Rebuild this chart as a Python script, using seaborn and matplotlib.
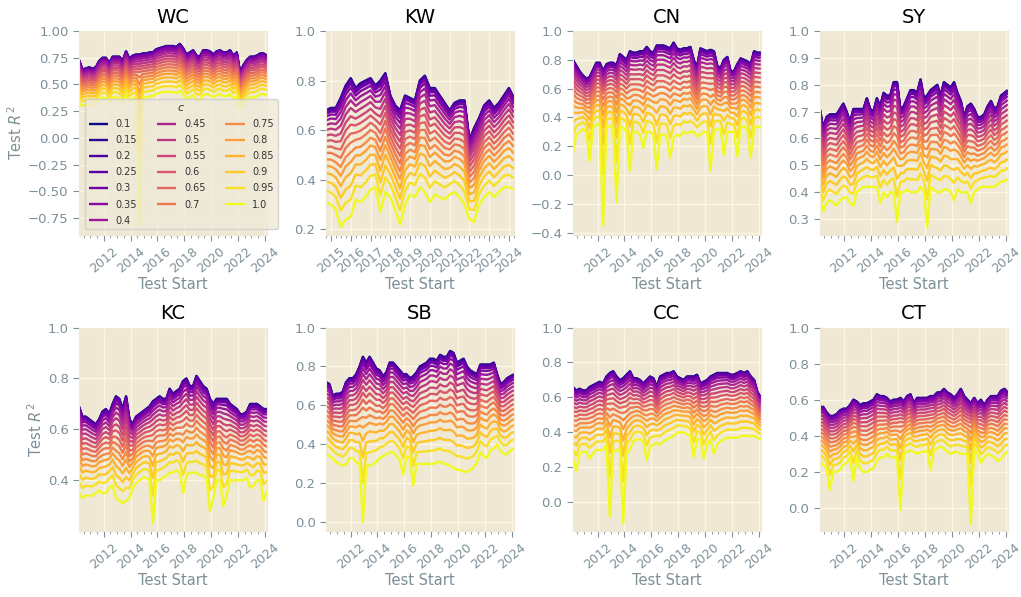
import numpy as np
import pandas as pd
import seaborn as sns
import matplotlib
matplotlib.use('Agg')
import matplotlib.dates as mdates
from matplotlib import pyplot as plt
from matplotlib.ticker import MultipleLocator

# shrinkage values c, one line each
C_VALUES = ['0.1', '0.15', '0.2', '0.25', '0.3', '0.35', '0.4', '0.45', '0.5', '0.55',
            '0.6', '0.65', '0.7', '0.75', '0.8', '0.85', '0.9', '0.95', '1.0']
# where each c line sits between the c=0.1 line (0) and the c=1.0 line (1)
C_FRAC = [0.0, 0.004, 0.01, 0.02, 0.038, 0.068, 0.11, 0.16, 0.215, 0.275,
          0.335, 0.4, 0.465, 0.535, 0.605, 0.685, 0.775, 0.875, 1.0]
# how much of the short drops of the c=1.0 line shows in each line
C_DIP = [0, 0, 0, 0, 0, 0, 0, 0, 0, 0,
         0, 0, 0.02, 0.05, 0.10, 0.18, 0.30, 0.55, 1.0]

# quarterly test start dates
DATES = pd.date_range('2010-03-01', '2024-03-01', freq='QS-MAR')
KW_DATES = pd.date_range('2014-10-01', '2024-04-01', freq='QS-JAN')

PANELS = ['WC', 'KW', 'CN', 'SY', 'KC', 'SB', 'CC', 'CT']
Y_STEP = {'WC': 0.25, 'SY': 0.1}

# c = 0.1 line (top) and c = 1.0 line (bottom, without the short drops)
WC_TOP = [0.73, 0.64, 0.65, 0.66, 0.65, 0.66, 0.72, 0.75, 0.75, 0.70, 0.76, 0.76,
          0.76, 0.72, 0.81, 0.74, 0.77, 0.78, 0.78, 0.79, 0.79, 0.80, 0.80, 0.83,
          0.84, 0.85, 0.86, 0.86, 0.86, 0.85, 0.88, 0.84, 0.78, 0.80, 0.82, 0.77,
          0.76, 0.82, 0.82, 0.81, 0.78, 0.81, 0.82, 0.80, 0.80, 0.82, 0.77, 0.80,
          0.61, 0.68, 0.73, 0.76, 0.76, 0.77, 0.79, 0.79, 0.77]
WC_LOW = [0.33, 0.30, 0.31, 0.32, 0.31, 0.32, 0.36, 0.38, 0.37, 0.33, 0.38, 0.38,
          0.37, 0.33, 0.40, 0.34, 0.37, 0.38, 0.37, 0.38, 0.38, 0.39, 0.39, 0.41,
          0.42, 0.43, 0.43, 0.43, 0.43, 0.42, 0.44, 0.41, 0.36, 0.38, 0.40, 0.36,
          0.35, 0.40, 0.41, 0.40, 0.38, 0.40, 0.41, 0.39, 0.39, 0.41, 0.37, 0.39,
          0.27, 0.32, 0.36, 0.38, 0.38, 0.39, 0.41, 0.41, 0.40]
WC_DIP_AT = ['2014-09']
WC_DIP_VAL = [-0.82]

KW_TOP = [0.68, 0.69, 0.69, 0.73, 0.78, 0.81, 0.77, 0.79, 0.80, 0.81, 0.78, 0.80,
          0.83, 0.74, 0.70, 0.68, 0.74, 0.73, 0.72, 0.80, 0.82, 0.77, 0.77, 0.74,
          0.71, 0.68, 0.71, 0.72, 0.72, 0.56, 0.61, 0.65, 0.70, 0.72, 0.69, 0.71,
          0.74, 0.77, 0.73]
KW_LOW = [0.31, 0.30, 0.28, 0.21, 0.24, 0.25, 0.32, 0.31, 0.33, 0.36, 0.37, 0.27,
          0.35, 0.33, 0.28, 0.22, 0.30, 0.34, 0.33, 0.37, 0.35, 0.31, 0.34, 0.33,
          0.32, 0.34, 0.35, 0.33, 0.30, 0.24, 0.23, 0.30, 0.33, 0.35, 0.33, 0.35,
          0.37, 0.37, 0.36]
KW_DIP_AT = []
KW_DIP_VAL = []

CN_TOP = [0.80, 0.76, 0.72, 0.69, 0.67, 0.68, 0.73, 0.78, 0.78, 0.72, 0.77, 0.78,
          0.78, 0.76, 0.84, 0.82, 0.80, 0.86, 0.85, 0.85, 0.86, 0.86, 0.89, 0.86,
          0.85, 0.90, 0.90, 0.90, 0.89, 0.88, 0.92, 0.88, 0.87, 0.88, 0.88, 0.89,
          0.80, 0.75, 0.88, 0.87, 0.86, 0.87, 0.86, 0.76, 0.74, 0.80, 0.82, 0.72,
          0.72, 0.77, 0.81, 0.80, 0.79, 0.77, 0.86, 0.85, 0.85]
CN_LOW = [0.30, 0.28, 0.30, 0.32, 0.30, 0.30, 0.33, 0.35, 0.35, 0.33, 0.33, 0.34,
          0.33, 0.30, 0.33, 0.33, 0.30, 0.28, 0.30, 0.30, 0.28, 0.25, 0.30, 0.30,
          0.28, 0.28, 0.28, 0.28, 0.27, 0.25, 0.26, 0.28, 0.27, 0.30, 0.29, 0.30,
          0.30, 0.27, 0.28, 0.30, 0.30, 0.28, 0.30, 0.32, 0.32, 0.33, 0.30, 0.30,
          0.30, 0.28, 0.33, 0.34, 0.32, 0.30, 0.33, 0.34, 0.33]
CN_DIP_AT = ['2010-03', '2011-06', '2012-06', '2013-06', '2014-06', '2015-06',
             '2016-06', '2017-06', '2020-06', '2021-06', '2022-06', '2023-06']
CN_DIP_VAL = [0.15, 0.10, -0.35, -0.19, 0.03, 0.19, 0.04, 0.12, 0.03, 0.14, 0.13, 0.12]

SY_TOP = [0.71, 0.64, 0.68, 0.69, 0.69, 0.69, 0.71, 0.73, 0.70, 0.66, 0.71, 0.71,
          0.71, 0.71, 0.75, 0.71, 0.70, 0.75, 0.72, 0.77, 0.76, 0.76, 0.81, 0.81,
          0.71, 0.72, 0.75, 0.78, 0.78, 0.77, 0.82, 0.75, 0.76, 0.78, 0.79, 0.80,
          0.76, 0.81, 0.80, 0.79, 0.81, 0.77, 0.74, 0.68, 0.72, 0.73, 0.71, 0.68,
          0.68, 0.69, 0.72, 0.74, 0.71, 0.72, 0.76, 0.77, 0.78]
SY_LOW = [0.38, 0.33, 0.36, 0.37, 0.36, 0.35, 0.37, 0.38, 0.38, 0.36, 0.35, 0.40,
          0.41, 0.42, 0.42, 0.42, 0.42, 0.42, 0.40, 0.40, 0.38, 0.40, 0.40, 0.38,
          0.40, 0.40, 0.41, 0.40, 0.40, 0.40, 0.42, 0.40, 0.40, 0.42, 0.41, 0.40,
          0.40, 0.41, 0.41, 0.40, 0.40, 0.41, 0.40, 0.40, 0.40, 0.38, 0.40, 0.41,
          0.42, 0.42, 0.42, 0.42, 0.42, 0.43, 0.44, 0.44, 0.45]
SY_DIP_AT = ['2014-09', '2015-12', '2018-03', '2020-03', '2021-06']
SY_DIP_VAL = [0.36, 0.29, 0.27, 0.37, 0.36]

KC_TOP = [0.69, 0.65, 0.65, 0.64, 0.63, 0.62, 0.64, 0.67, 0.68, 0.66, 0.70, 0.73,
          0.72, 0.68, 0.73, 0.64, 0.62, 0.65, 0.66, 0.67, 0.68, 0.69, 0.71, 0.72,
          0.73, 0.72, 0.72, 0.76, 0.74, 0.75, 0.76, 0.79, 0.80, 0.77, 0.77, 0.81,
          0.79, 0.77, 0.76, 0.72, 0.70, 0.72, 0.72, 0.72, 0.72, 0.70, 0.69, 0.68,
          0.66, 0.66, 0.67, 0.70, 0.70, 0.70, 0.69, 0.68, 0.68]
KC_LOW = [0.35, 0.33, 0.34, 0.34, 0.34, 0.35, 0.36, 0.35, 0.35, 0.37, 0.38, 0.33,
          0.32, 0.31, 0.32, 0.33, 0.37, 0.39, 0.40, 0.41, 0.41, 0.40, 0.38, 0.40,
          0.40, 0.41, 0.42, 0.43, 0.43, 0.44, 0.43, 0.40, 0.42, 0.43, 0.43, 0.43,
          0.42, 0.42, 0.41, 0.36, 0.33, 0.40, 0.40, 0.36, 0.34, 0.40, 0.40, 0.40,
          0.40, 0.40, 0.41, 0.40, 0.38, 0.40, 0.40, 0.38, 0.36]
KC_DIP_AT = ['2015-09', '2017-12', '2019-12', '2020-12', '2022-12', '2023-12']
KC_DIP_VAL = [0.23, 0.35, 0.28, 0.30, 0.37, 0.32]

SB_TOP = [0.72, 0.71, 0.65, 0.66, 0.66, 0.67, 0.72, 0.74, 0.74, 0.76, 0.80, 0.85,
          0.82, 0.85, 0.82, 0.79, 0.78, 0.75, 0.77, 0.82, 0.82, 0.80, 0.78, 0.76,
          0.76, 0.74, 0.75, 0.77, 0.80, 0.81, 0.82, 0.84, 0.84, 0.83, 0.86, 0.85,
          0.85, 0.88, 0.87, 0.82, 0.83, 0.84, 0.80, 0.78, 0.77, 0.76, 0.81, 0.81,
          0.81, 0.81, 0.82, 0.76, 0.71, 0.72, 0.74, 0.75, 0.76]
SB_LOW = [0.36, 0.34, 0.33, 0.31, 0.30, 0.29, 0.30, 0.33, 0.33, 0.31, 0.30, 0.30,
          0.29, 0.29, 0.30, 0.31, 0.33, 0.34, 0.35, 0.36, 0.36, 0.34, 0.32, 0.30,
          0.34, 0.33, 0.28, 0.30, 0.30, 0.30, 0.30, 0.30, 0.30, 0.31, 0.31, 0.30,
          0.30, 0.29, 0.28, 0.27, 0.27, 0.26, 0.26, 0.27, 0.28, 0.31, 0.36, 0.34,
          0.33, 0.37, 0.38, 0.40, 0.37, 0.35, 0.35, 0.37, 0.38]
SB_DIP_AT = ['2012-12', '2015-12', '2016-09']
SB_DIP_VAL = [0.0, 0.245, 0.19]

CC_TOP = [0.66, 0.64, 0.65, 0.64, 0.64, 0.66, 0.67, 0.68, 0.69, 0.68, 0.72, 0.74,
          0.75, 0.72, 0.70, 0.71, 0.73, 0.75, 0.71, 0.71, 0.70, 0.68, 0.70, 0.72,
          0.71, 0.66, 0.72, 0.73, 0.74, 0.74, 0.75, 0.72, 0.71, 0.70, 0.72, 0.72,
          0.72, 0.73, 0.68, 0.69, 0.70, 0.72, 0.73, 0.74, 0.74, 0.74, 0.74, 0.73,
          0.73, 0.74, 0.75, 0.74, 0.75, 0.72, 0.70, 0.63, 0.60]
CC_LOW = [0.25, 0.27, 0.28, 0.29, 0.29, 0.28, 0.28, 0.30, 0.30, 0.30, 0.33, 0.30,
          0.29, 0.30, 0.30, 0.30, 0.28, 0.30, 0.35, 0.36, 0.36, 0.35, 0.33, 0.32,
          0.33, 0.34, 0.33, 0.35, 0.36, 0.37, 0.38, 0.40, 0.40, 0.40, 0.39, 0.38,
          0.34, 0.36, 0.36, 0.33, 0.33, 0.36, 0.34, 0.33, 0.35, 0.36, 0.37, 0.37,
          0.37, 0.37, 0.38, 0.38, 0.38, 0.38, 0.38, 0.37, 0.36]
CC_DIP_AT = ['2010-06', '2011-06', '2012-12', '2013-12', '2015-09', '2019-03',
             '2019-12', '2020-09']
CC_DIP_VAL = [0.18, 0.25, -0.08, -0.12, 0.24, 0.26, 0.25, 0.28]

CT_TOP = [0.56, 0.56, 0.53, 0.51, 0.51, 0.52, 0.54, 0.55, 0.55, 0.57, 0.60, 0.59,
          0.57, 0.58, 0.58, 0.59, 0.60, 0.63, 0.62, 0.62, 0.61, 0.59, 0.60, 0.60,
          0.61, 0.59, 0.62, 0.63, 0.58, 0.61, 0.61, 0.61, 0.61, 0.62, 0.62, 0.64,
          0.64, 0.66, 0.64, 0.63, 0.61, 0.63, 0.66, 0.62, 0.60, 0.58, 0.61, 0.58,
          0.60, 0.57, 0.60, 0.62, 0.62, 0.62, 0.65, 0.66, 0.64]
CT_LOW = [0.26, 0.24, 0.22, 0.20, 0.20, 0.20, 0.21, 0.24, 0.25, 0.28, 0.28, 0.28,
          0.22, 0.20, 0.20, 0.21, 0.22, 0.26, 0.28, 0.28, 0.30, 0.28, 0.28, 0.28,
          0.28, 0.30, 0.31, 0.32, 0.31, 0.30, 0.31, 0.31, 0.32, 0.31, 0.32, 0.33,
          0.34, 0.33, 0.31, 0.30, 0.31, 0.31, 0.30, 0.30, 0.30, 0.31, 0.33, 0.30,
          0.26, 0.28, 0.30, 0.29, 0.28, 0.26, 0.27, 0.30, 0.31]
CT_DIP_AT = ['2010-12', '2012-09', '2016-03', '2018-06', '2021-06', '2022-03']
CT_DIP_VAL = [0.10, 0.15, -0.01, 0.21, -0.09, 0.25]

SERIES = {
    'WC': (DATES, WC_TOP, WC_LOW, WC_DIP_AT, WC_DIP_VAL),
    'KW': (KW_DATES, KW_TOP, KW_LOW, KW_DIP_AT, KW_DIP_VAL),
    'CN': (DATES, CN_TOP, CN_LOW, CN_DIP_AT, CN_DIP_VAL),
    'SY': (DATES, SY_TOP, SY_LOW, SY_DIP_AT, SY_DIP_VAL),
    'KC': (DATES, KC_TOP, KC_LOW, KC_DIP_AT, KC_DIP_VAL),
    'SB': (DATES, SB_TOP, SB_LOW, SB_DIP_AT, SB_DIP_VAL),
    'CC': (DATES, CC_TOP, CC_LOW, CC_DIP_AT, CC_DIP_VAL),
    'CT': (DATES, CT_TOP, CT_LOW, CT_DIP_AT, CT_DIP_VAL),
}

TICK_GRAY = '#7d8f97'


def panel_frame(dates, top, low, dip_at, dip_val):
    top = np.asarray(top)
    low = np.asarray(low)
    drop = np.zeros(len(dates))
    for d, v in zip(dip_at, dip_val):
        i = dates.get_loc(pd.Timestamp(d + '-01'))
        drop[i] = v - low[i]
    frames = []
    for c, f, w in zip(C_VALUES, C_FRAC, C_DIP):
        frames.append(pd.DataFrame({'Test Start': dates,
                                    'R2': top + f * (low - top) + w * drop,
                                    'c': c}))
    return pd.concat(frames, ignore_index=True)


def main():
    plt.style.use('Solarize_Light2')
    plt.rcParams.update({
        'figure.facecolor': 'white',
        'axes.facecolor': '#eee8d5',
        'axes.edgecolor': '#eee8d5',
        'grid.color': '#fdf6e3',
        'grid.linewidth': 1.0,
        'xtick.color': TICK_GRAY,
        'ytick.color': TICK_GRAY,
        'axes.labelcolor': TICK_GRAY,
        'axes.titlecolor': 'black',
        'font.family': ['DejaVu Sans'],
    })

    colors = [plt.cm.plasma(v) for v in np.linspace(0, 1, len(C_VALUES))]

    fig, axes = plt.subplots(2, 4, figsize=(10.21, 5.97), dpi=100)
    fig.subplots_adjust(left=0.0774, right=0.987, bottom=0.1106, top=0.948,
                        wspace=0.314, hspace=0.457)

    for ax, name in zip(axes.flat, PANELS):
        dates, top, low, dip_at, dip_val = SERIES[name]
        df = panel_frame(dates, top, low, dip_at, dip_val)

        sns.lineplot(data=df, x='Test Start', y='R2', hue='c', hue_order=C_VALUES,
                     palette=colors, linewidth=1.7, errorbar=None, legend=False, ax=ax)

        ax.set_xlim(dates[0], dates[-1])
        ax.set_ylim(top=1.0)
        ax.yaxis.set_major_locator(MultipleLocator(Y_STEP.get(name, 0.2)))
        ax.set_title(name, fontsize=14, color='black')
        ax.set_xlabel('Test Start', fontsize=10.5, labelpad=1)
        if name in ('WC', 'KC'):
            ax.set_ylabel('Test $R^2$', fontsize=10.5, labelpad=2)
        else:
            ax.set_ylabel('')

        if name == 'KW':
            ax.xaxis.set_major_locator(mdates.YearLocator(1))
            ax.xaxis.set_minor_locator(mdates.MonthLocator([4, 7, 10]))
        else:
            ax.xaxis.set_major_locator(mdates.YearLocator(2))
            ax.xaxis.set_minor_locator(mdates.MonthLocator([1, 7]))
        ax.xaxis.set_major_formatter(mdates.DateFormatter('%Y'))
        ax.tick_params(axis='x', which='major', labelrotation=40, labelsize=9, length=4)
        ax.tick_params(axis='x', which='minor', length=2.5, color=TICK_GRAY)
        ax.tick_params(axis='y', labelsize=9.5, length=4)
        ax.grid(True, which='major')
        ax.grid(False, which='minor')

        if name == 'WC':
            handles = ax.get_lines()[:len(C_VALUES)]
            leg = ax.legend(handles, C_VALUES, title='$c$', ncol=3, fontsize=7,
                            title_fontsize=8, loc='lower left', borderaxespad=0,
                            labelspacing=0.62, bbox_to_anchor=(0.03, 0.025),
                            framealpha=0.8, facecolor='#efe9d8', edgecolor='#cccccc',
                            labelcolor='#333333')
            leg.get_title().set_color('#333333')
            leg.set_zorder(10)

    fig.savefig('out.png', dpi=100)


if __name__ == '__main__':
    main()
